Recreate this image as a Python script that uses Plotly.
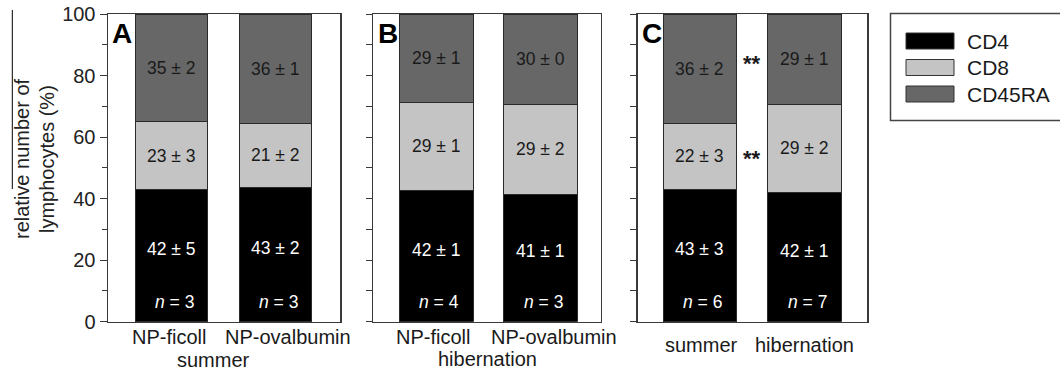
import plotly.graph_objects as go

# ---------------- data ----------------
cats_A = ["NP-ficoll", "NP-ovalbumin"]
cats_B = ["NP-ficoll", "NP-ovalbumin"]
cats_C = ["summer", "hibernation"]

cd4_A = [43.0, 43.7]
cd8_A = [22.0, 20.8]
cd45_A = [35.0, 35.5]
cd4_B = [42.5, 41.5]
cd8_B = [28.9, 29.1]
cd45_B = [28.6, 29.4]
cd4_C = [42.9, 42.0]
cd8_C = [21.6, 28.7]
cd45_C = [35.5, 29.3]

lab_cd4_A = ["42 ± 5", "43 ± 2"]
lab_cd8_A = ["23 ± 3", "21 ± 2"]
lab_cd45_A = ["35 ± 2", "36 ± 1"]
lab_cd4_B = ["42 ± 1", "41 ± 1"]
lab_cd8_B = ["29 ± 1", "29 ± 2"]
lab_cd45_B = ["29 ± 1", "30 ± 0"]
lab_cd4_C = ["43 ± 3", "42 ± 1"]
lab_cd8_C = ["22 ± 3", "29 ± 2"]
lab_cd45_C = ["36 ± 2", "29 ± 1"]

n_A = [3, 3]
n_B = [4, 3]
n_C = [6, 7]

group_labels = ["summer", "hibernation"]
series_names = ["CD4", "CD8", "CD45RA"]
colors = ["#000000", "#c4c4c4", "#676767"]
yticks = [0, 20, 40, 60, 80, 100]

# ---------------- layout helpers ----------------
W, H = 1060, 374
FONT = "Liberation Sans, Arial, sans-serif"


def px(x):
    return x / W


def py(y):
    return (H - y) / H


y_dom = [py(321.7), py(14)]
panels = [
    dict(cats=cats_A, cd4=cd4_A, cd8=cd8_A, cd45=cd45_A, l4=lab_cd4_A, l8=lab_cd8_A, l45=lab_cd45_A,
         n=n_A, dom=[px(108), px(340)], rng=[-0.61, 1.62], width=0.70, letter="A", lx=110),
    dict(cats=cats_B, cd4=cd4_B, cd8=cd8_B, cd45=cd45_B, l4=lab_cd4_B, l8=lab_cd8_B, l45=lab_cd45_B,
         n=n_B, dom=[px(373.3), px(600.7)], rng=[-0.606, 1.58], width=0.71, letter="B", lx=375.5),
    dict(cats=cats_C, cd4=cd4_C, cd8=cd8_C, cd45=cd45_C, l4=lab_cd4_C, l8=lab_cd8_C, l45=lab_cd45_C,
         n=n_C, dom=[px(637.7), px(867.3)], rng=[-0.595, 1.60], width=0.70, letter="C", lx=639.5),
]

fig = go.Figure()
annotations = []
shapes = []
frame_col = "#3a3a3a"
LBL = 17.5


def ann(**kw):
    d = dict(showarrow=False, xanchor="center", yanchor="middle")
    d.update(kw)
    annotations.append(d)


for i, p in enumerate(panels):
    k = "" if i == 0 else str(i + 1)
    xa, ya = "x" + k, "y" + k
    xpos = list(range(len(p["cats"])))
    for name, vals, col in zip(series_names, [p["cd4"], p["cd8"], p["cd45"]], colors):
        fig.add_trace(go.Bar(
            x=xpos, y=vals, name=name, marker=dict(color=col, line=dict(color="#2a2a2a", width=1)),
            width=p["width"], xaxis=xa, yaxis=ya, showlegend=False, hoverinfo="skip"))
    for j in xpos:
        c4, c8, c45 = p["cd4"][j], p["cd8"][j], p["cd45"][j]
        ann(x=j, y=c4 * 0.55, xref=xa, yref=ya, text=p["l4"][j],
            font=dict(family=FONT, size=LBL, color="white"))
        ann(x=j, y=c4 + c8 / 2, xref=xa, yref=ya, text=p["l8"][j],
            font=dict(family=FONT, size=LBL, color="#1a1a1a"))
        ann(x=j, y=c4 + c8 + c45 / 2, xref=xa, yref=ya, text=p["l45"][j],
            font=dict(family=FONT, size=LBL, color="#1a1a1a"))
        ann(x=j, y=6.5, xref=xa, yref=ya, text="<i>n</i> = %d" % p["n"][j], xshift=3,
            font=dict(family=FONT, size=LBL, color="white"))
    ann(x=px(p["lx"]), y=py(33), xref="paper", yref="paper", text="<b>%s</b>" % p["letter"],
        xanchor="left", font=dict(family=FONT, size=28, color="black"))
    fig.layout["xaxis" + k] = dict(domain=p["dom"], range=p["rng"], showline=True, mirror=True,
                                   linecolor=frame_col, linewidth=1.5, showgrid=False, zeroline=False,
                                   showticklabels=False, ticks="", anchor=ya, fixedrange=True,
                                   automargin=False)
    if i == 0:
        fig.layout["yaxis" + k] = dict(domain=y_dom, range=[0, 100], showline=True, mirror=True,
                                       linecolor=frame_col, linewidth=1.5, showgrid=False, zeroline=False,
                                       tickvals=yticks, ticks="outside", ticklen=7, tickcolor=frame_col,
                                       tickfont=dict(family=FONT, size=20, color="#222"),
                                       ticklabeloverflow="allow",
                                       minor=dict(dtick=10, ticks="outside", ticklen=5, tickcolor=frame_col,
                                                  showgrid=False),
                                       anchor=xa, automargin=False, fixedrange=True)
    else:
        fig.layout["yaxis" + k] = dict(domain=y_dom, range=[0, 100], showline=True, mirror=True,
                                       linecolor=frame_col, linewidth=1.5, showgrid=False, zeroline=False,
                                       dtick=10, ticks="outside", ticklen=6, tickcolor=frame_col,
                                       showticklabels=False, anchor=xa, automargin=False, fixedrange=True)

cat_font = dict(family=FONT, size=20, color="#1a1a1a")
ann(x=0, y=py(337), xref="x", yref="paper", text=cats_A[0], xshift=-2, font=cat_font)
ann(x=1, y=py(337), xref="x", yref="paper", text=cats_A[1], xshift=12, font=cat_font)
ann(x=0, y=py(337), xref="x2", yref="paper", text=cats_B[0], xshift=-3, font=cat_font)
ann(x=1, y=py(337), xref="x2", yref="paper", text=cats_B[1], xshift=14, font=cat_font)
ann(x=0, y=py(345), xref="x3", yref="paper", text=cats_C[0], xshift=2, font=cat_font)
ann(x=1, y=py(345), xref="x3", yref="paper", text=cats_C[1], font=cat_font)
ann(x=px(213), y=py(360), xref="paper", yref="paper", text=group_labels[0], font=cat_font)
ann(x=px(487), y=py(359), xref="paper", yref="paper", text=group_labels[1], font=cat_font)

for yv in [84, 53]:
    ann(x=0.5, y=yv, xref="x3", yref="y3", text="<b>**</b>", font=dict(family=FONT, size=22, color="#1a1a1a"))

ann(x=px(22), y=py(159), xref="paper", yref="paper", text="relative number of", textangle=-90,
    font=dict(family=FONT, size=20, color="#222"))
ann(x=px(47), y=py(159), xref="paper", yref="paper", text="lymphocytes (%)", textangle=-90,
    font=dict(family=FONT, size=20, color="#222"))
shapes.append(dict(type="line", xref="paper", yref="paper", x0=px(12.3), x1=px(12.3), y0=py(10), y1=py(189),
                   line=dict(color="black", width=1)))

shapes.append(dict(type="rect", xref="paper", yref="paper", x0=px(890.5), x1=px(1075), y0=py(120.5), y1=py(13.5),
                   line=dict(color="#444", width=1.5), fillcolor="white"))
leg_y = [41, 67.5, 94]
for name, col, yc in zip(series_names, colors, leg_y):
    shapes.append(dict(type="rect", xref="paper", yref="paper", x0=px(906), x1=px(954), y0=py(yc + 8),
                       y1=py(yc - 8), line=dict(color="#333", width=1), fillcolor=col))
    ann(x=px(965), y=py(yc), xref="paper", yref="paper", text=name, xanchor="left",
        font=dict(family=FONT, size=21, color="#1a1a1a"))

fig.update_layout(
    template="none",
    width=W, height=H, margin=dict(l=0, r=0, t=0, b=0, pad=0, autoexpand=False), barmode="stack",
    plot_bgcolor="white", paper_bgcolor="white", bargap=0,
    annotations=annotations, shapes=shapes, showlegend=False,
)

fig.write_html("out.html", config={"displayModeBar": False, "staticPlot": True},
               post_script="document.body.style.margin='0px';document.body.style.overflow='hidden';")
